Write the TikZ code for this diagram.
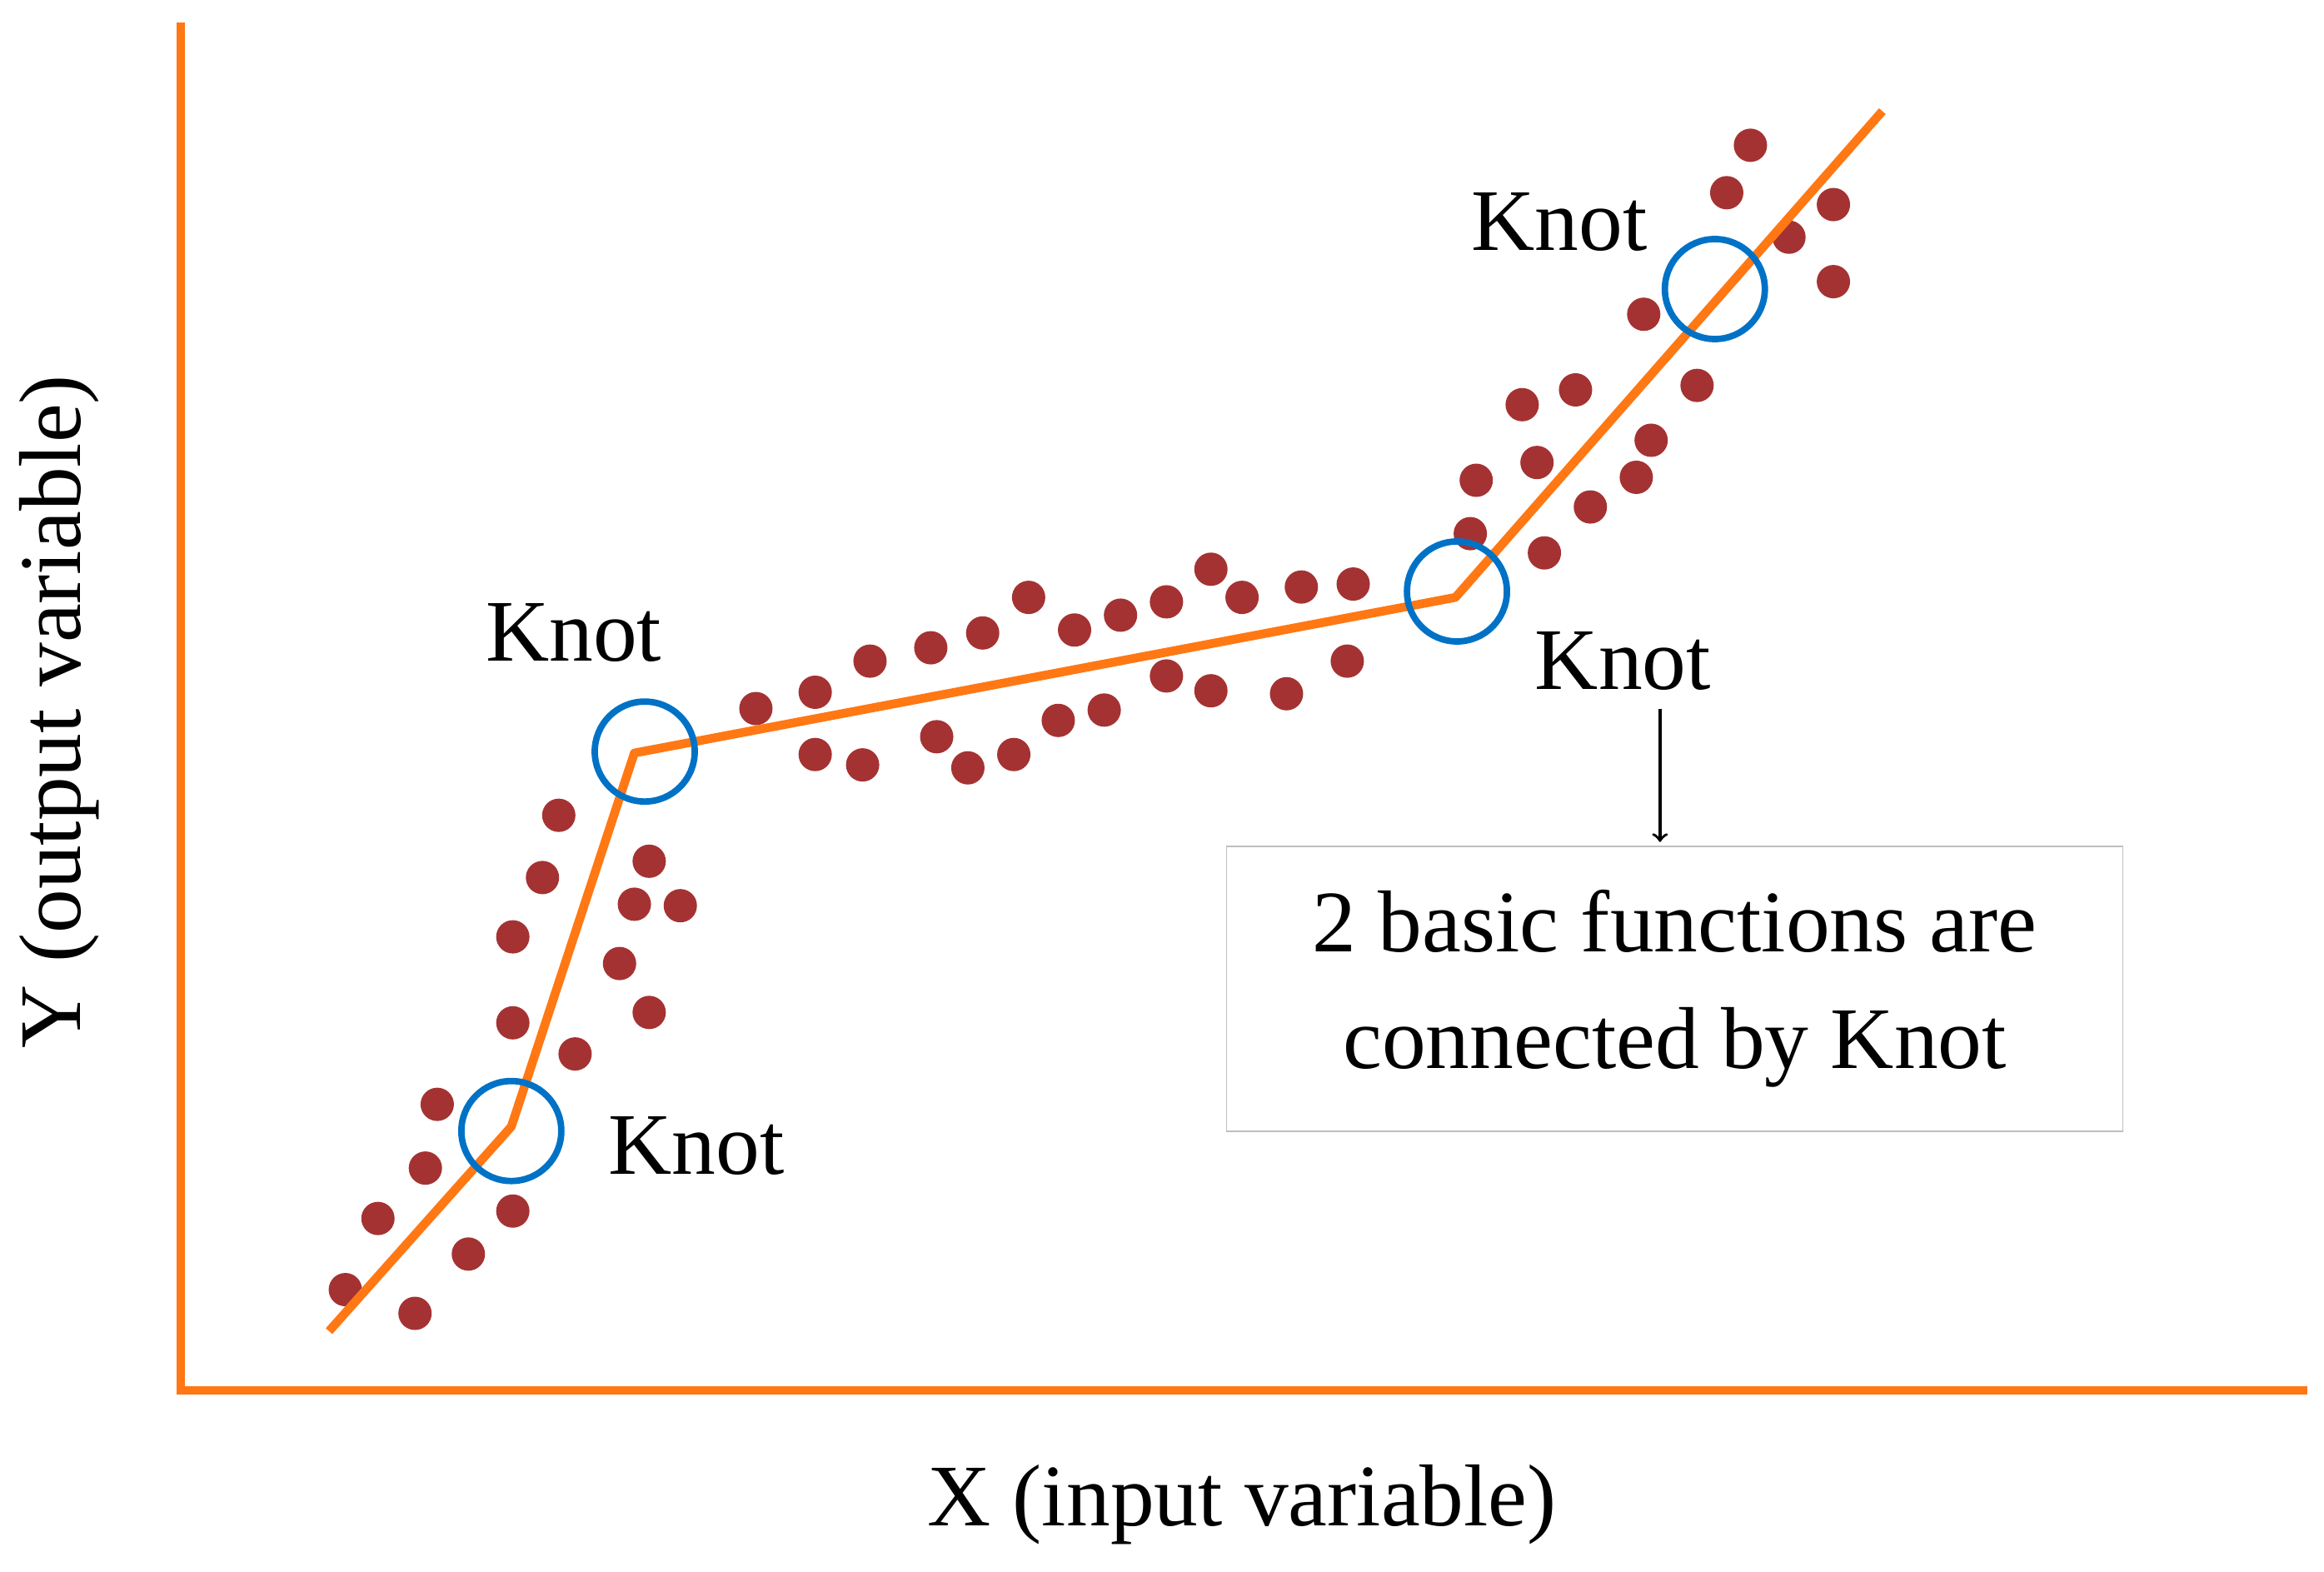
\documentclass[tikz,border=0pt]{standalone}
\usepackage{fontspec}
\setmainfont{Liberation Serif}
\usepackage{xcolor}
\usetikzlibrary{arrows, positioning}
\definecolor{axisorange}{RGB}{255,120,20}
\definecolor{knotblue}{RGB}{0,114,198}
\definecolor{dotred}{RGB}{165,50,50}

\begin{document}
\begin{tikzpicture}[x=0.01779cm, y=-0.01779cm,
        axis/.style={draw, axisorange, line width=2.8pt},
        fit/.style={draw, axisorange, line width=3pt, line join=round},
        knot/.style={circle, draw=knotblue, line width=2.2pt, minimum size=1.2cm, inner sep=0pt},
        dot/.style={circle, fill=dotred, minimum size=0.4cm, inner sep=0pt},
        label/.style={font=\fontsize{30}{34}\selectfont},
        note/.style={rectangle, draw=gray!50, thin, minimum width=10.76cm, minimum height=3.42cm,
            align=center, font=\fontsize{30}{40}\selectfont},
        line/.style={draw, -to, line width=1pt, >=to, shorten >=1pt}]

        \useasboundingbox (0,0) rectangle (1568,1060);

        % Axes
        \coordinate (top) at (122,15);
        \coordinate (origin) at (122,938);
        \coordinate (right) at (1557,938);
        \path [axis] (top) -- (origin) -- (right);

        % Data
        \foreach \x/\y in {233/870,280/886,255/822,287/788,295/745,316/846,346/817,346/690,346/632,
            366/592,377/550,388/711,418/650,428/610,438/581,438/683,459/611,510/478,550/467,550/509,
            582/516,587/446,628/437,632/497,653/518,663/427,684/509,694/403,714/486,725/425,745/479,
            756/415,787/456,787/406,817/384,817/466,838/403,868/468,878/396,909/446,913/394,992/360,
            996/324,1027/273,1042/373,1037/312,1063/263,1073/342,1104/322,1114/297,1109/212,1145/260,
            1165/130,1181/98,1207/160,1237/138,1237/190}
            \node [dot] at (\x,\y) {};

        % Fitted line
        \coordinate (start) at (222,898);
        \coordinate (k1) at (345,760);
        \coordinate (k2) at (428,508);
        \coordinate (k3) at (982,403);
        \coordinate (end) at (1270,75);
        \path [fit] (start) -- (k1) -- (k2) -- (k3) -- (end);

        % Knots
        \node [knot] (c1) at (345,763) {};
        \node [knot] (c2) at (435,507) {};
        \node [knot] (c3) at (983,399) {};
        \node [knot] (c4) at (1157,195) {};
        \node [label] (l1) at (470,773) {Knot};
        \node [label] (l2) at (387,427) {Knot};
        \node [label] (l3) at (1095,446) {Knot};
        \node [label] (l4) at (1052,150) {Knot};

        % Note
        \node [note] (box) at (1130,667) {2 basic functions are\\connected by Knot};
        \coordinate (tip) at (1120,570);
        \coordinate (tail) at (1120,478);
        \path [line] (tail) -- (tip);

        % Axis labels
        \node [label] (xlab) at (838,1015) {X (input variable)};
        \node [label, rotate=90] (ylab) at (40,480) {Y (output variable)};

    \end{tikzpicture}
\end{document}
